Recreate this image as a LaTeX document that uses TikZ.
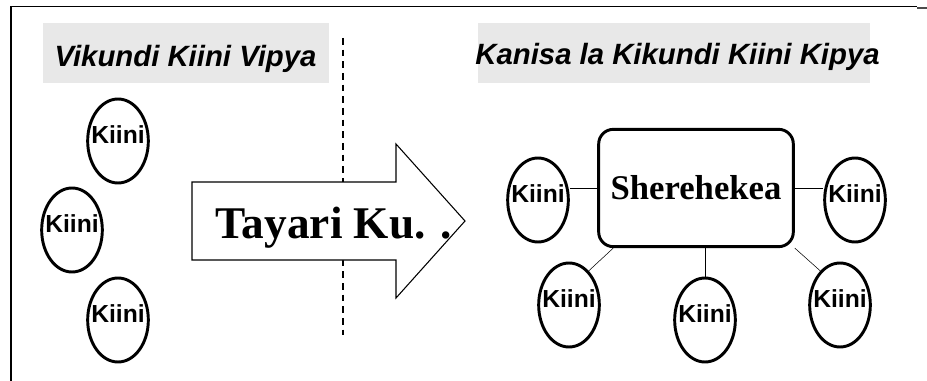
\documentclass[tikz,border=0pt]{standalone}
\usepackage{fontspec}
\setmainfont{Liberation Serif}
\setsansfont{Liberation Sans}
\usetikzlibrary{shapes.geometric}
\definecolor{titlegray}{RGB}{232,232,232}
\tikzstyle{kiini}=[
        draw,
        ellipse,
        line width = 2.2pt,
        minimum width = 45.5pt,
        minimum height = 63pt,
        inner sep = 0pt,
        label = {[kiini text]center:Kiini}
    ]
\tikzstyle{kiini text}=[
        anchor = base,
        yshift = 4.5pt,
        inner sep = 0pt,
        font = \sffamily\bfseries\fontsize{18.5}{20}\selectfont
    ]
\tikzstyle{title}=[
        anchor = base,
        inner sep = 0pt,
        font = \sffamily\bfseries\itshape\fontsize{22}{26}\selectfont
    ]

\begin{document}
\begin{tikzpicture}[x=0.75pt, y=-0.75pt, thin,
        pointer/.style = {draw, fill = white, line width = 0.8pt},
        divider/.style = {dash pattern = on 5pt off 3.75pt, line width = 0.8pt},
        party/.style = {draw, rounded corners = 11pt, line width = 2.2pt,
            minimum width = 146pt, minimum height = 88pt,
            font = \bfseries\fontsize{26}{30}\selectfont}]
        \useasboundingbox (0,0) rectangle (927,381);
        \draw[line width = 1.1pt] (11,381) -- (11,6.5) -- (917,6.5);
        \draw[line width = 1pt, black!70] (917,8) -- (927,8);

        \fill[titlegray] (43,23) rectangle (329,83);
        \fill[titlegray] (478,23) rectangle (870,83);
        \node[title] (old) at (185.5,67) {Vikundi Kiini Vipya};
        \node[title] (new) at (677.5,65) {Kanisa la Kikundi Kiini Kipya};

        \coordinate (cutA) at (343,38);
        \coordinate (cutB) at (343,335);
        \draw[divider] (cutA) -- (cutB);

        \draw[pointer] (192,182) -- (396,182) -- (396,144) -- (465,221)
            -- (396,298) -- (396,260) -- (192,260) -- cycle;
        \node[anchor = base, font = \bfseries\fontsize{34}{40}\selectfont] (go) at (334,238) {Tayari Ku. .};

        % vikundi kabla
        \node[kiini] (a1) at (118,141) {};
        \node[kiini] (a2) at (72,230) {};
        \node[kiini] (a3) at (118,320) {};

        % kanisa jipya
        \node[party] (S) at (696,188) {Sherehekea};
        \node[kiini] (b1) at (538,200) {};
        \node[kiini] (b2) at (855,200) {};
        \node[kiini] (b3) at (569,305) {};
        \node[kiini] (b4) at (705,320) {};
        \node[kiini] (b5) at (840,305) {};

        \draw (S.west) -- (b1.east |- S.west);
        \draw (S.east) -- (b2.west |- S.east);
        \draw ([xshift = 12pt]S.south west) -- (b3.60);
        \draw (b4.north) -- (b4.north |- S.south);
        \draw (S.south east) -- (b5.120);
    \end{tikzpicture}
\end{document}
